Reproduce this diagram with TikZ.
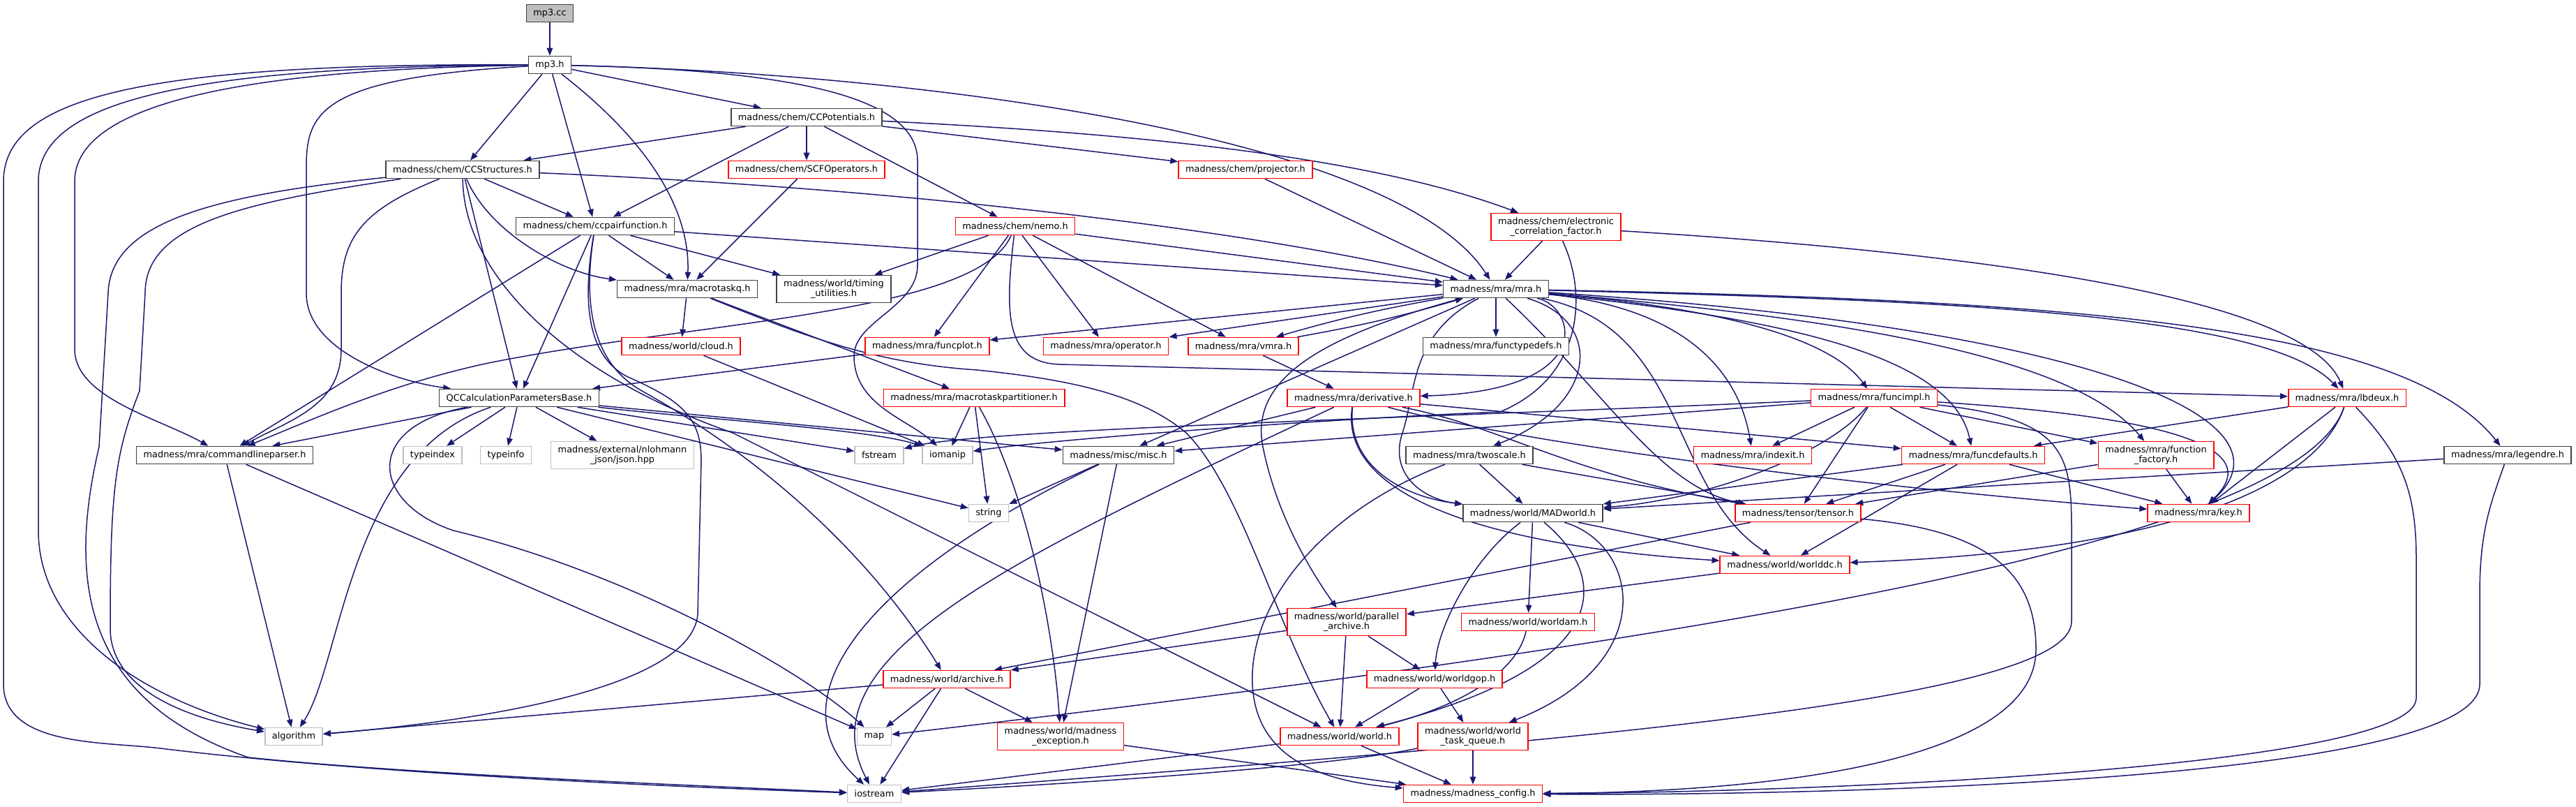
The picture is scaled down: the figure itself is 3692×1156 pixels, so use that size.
\documentclass[tikz,border=0pt]{standalone}
\usepackage{fontspec}
\setmainfont{DejaVu Sans}
\usetikzlibrary{arrows.meta}
\definecolor{Navy}{HTML}{191970}
\definecolor{Frame}{HTML}{404040}
\definecolor{Grey}{HTML}{BFBFBF}
\definecolor{Trunc}{HTML}{FF0000}
\pgfdeclarelayer{background}
\pgfsetlayers{background,main}

\begin{document}
\begin{tikzpicture}[x=1pt, y=-1pt,
  hdr/.style={draw=Frame, fill=white, line width=1.6pt, font=\fontsize{12.9}{14}\selectfont, inner xsep=10pt, inner ysep=6pt, minimum height=25pt, align=center},
  sys/.style={hdr, draw=Grey},
  trunc/.style={hdr, draw=Trunc},
  incl/.style={draw=Navy, line width=1.5pt, -{Triangle[length=11pt,width=8.5pt]}}]
\useasboundingbox (0,0) rectangle (3692,1156);
\node[hdr, fill=Grey] (cc) at (788,19) {mp3.cc};
\node[hdr] (mph) at (788,93) {mp3.h};
\node[hdr] (ccpot) at (1156,168) {madness/chem/CCPotentials.h};
\node[hdr] (ccstr) at (663,243) {madness/chem/CCStructures.h};
\node[trunc] (scfop) at (1156,243) {madness/chem/SCFOperators.h};
\node[trunc] (proj) at (1785,243) {madness/chem/projector.h};
\node[hdr] (ccpair) at (853,324) {madness/chem/ccpairfunction.h};
\node[trunc] (nemo) at (1455,324) {madness/chem/nemo.h};
\node[trunc] (ecf) at (2230,325) {madness/chem/electronic\\\_correlation\_factor.h};
\node[hdr] (mtq) at (985,414) {madness/mra/macrotaskq.h};
\node[hdr] (timing) at (1195,414) {madness/world/timing\\\_utilities.h};
\node[hdr] (mra) at (2144,414) {madness/mra/mra.h};
\node[trunc] (cloud) at (976,496) {madness/world/cloud.h};
\node[trunc] (funcplot) at (1329,496) {madness/mra/funcplot.h};
\node[trunc] (oper) at (1585,496) {madness/mra/operator.h};
\node[trunc] (vmra) at (1782,496) {madness/mra/vmra.h};
\node[hdr] (ftd) at (2144,496) {madness/mra/functypedefs.h};
\node[hdr] (qccalc) at (744,570) {QCCalculationParametersBase.h};
\node[trunc] (mtp) at (1396,570) {madness/mra/macrotaskpartitioner.h};
\node[trunc] (deriv) at (1940,570) {madness/mra/derivative.h};
\node[trunc] (funcimpl) at (2686,570) {madness/mra/funcimpl.h};
\node[trunc] (lbdeux) at (3364,570) {madness/mra/lbdeux.h};
\node[hdr] (clp) at (322,652) {madness/mra/commandlineparser.h};
\node[sys] (tidx) at (620,652) {typeindex};
\node[sys] (tinfo) at (725,652) {typeinfo};
\node[sys] (json) at (892,652) {madness/external/nlohmann\\\_json/json.hpp};
\node[sys] (fstr) at (1260,652) {fstream};
\node[sys] (ioman) at (1358,652) {iomanip};
\node[hdr] (misc) at (1603,652) {madness/misc/misc.h};
\node[hdr] (twoscale) at (2106,652) {madness/mra/twoscale.h};
\node[trunc] (indexit) at (2512,652) {madness/mra/indexit.h};
\node[trunc] (fdef) at (2828,652) {madness/mra/funcdefaults.h};
\node[trunc] (ffact) at (3090,652) {madness/mra/function\\\_factory.h};
\node[hdr] (legendre) at (3594,652) {madness/mra/legendre.h};
\node[sys] (str) at (1417,735) {string};
\node[hdr] (madw) at (2197,735) {madness/world/MADworld.h};
\node[trunc] (tensor) at (2577,735) {madness/tensor/tensor.h};
\node[trunc] (key) at (3151,735) {madness/mra/key.h};
\node[trunc] (worlddc) at (2558,809) {madness/world/worlddc.h};
\node[trunc] (parch) at (1930,891) {madness/world/parallel\\\_archive.h};
\node[trunc] (worldam) at (2190,891) {madness/world/worldam.h};
\node[trunc] (archive) at (1357,973) {madness/world/archive.h};
\node[trunc] (worldgop) at (2056,973) {madness/world/worldgop.h};
\node[sys] (algo) at (421,1055) {algorithm};
\node[sys] (map) at (1253,1055) {map};
\node[trunc] (mexc) at (1520,1055) {madness/world/madness\\\_exception.h};
\node[trunc] (world) at (1920,1055) {madness/world/world.h};
\node[trunc] (wtq) at (2111,1055) {madness/world/world\\\_task\_queue.h};
\node[sys] (iostr) at (1253,1137) {iostream};
\node[trunc] (mcfg) at (2111,1137) {madness/madness\_config.h};
\begin{pgfonlayer}{background}
\fill[white] (0,0) rectangle (3692,1156);
\foreach \x/\y in {cc/mph,mph/ccstr,mph/ccpair,mph/ccpot,ccpot/ccstr,ccpot/ccpair,ccpot/scfop,ccpot/nemo,ccpot/proj,
  ccstr/ccpair,ccstr/qccalc,ccpair/timing,ccpair/mra,ccpair/qccalc,ccpair/clp,ccpair/mtq,scfop/mtq,
  nemo/timing,nemo/funcplot,nemo/oper,nemo/vmra,nemo/mra,proj/mra,ecf/mra,vmra/deriv,funcplot/qccalc,
  mtq/cloud,mtq/mtp,cloud/ioman,mra/ftd,mra/funcplot,mra/oper,mra/misc,
  qccalc/tidx,qccalc/tinfo,qccalc/json,qccalc/clp,qccalc/fstr,qccalc/misc,qccalc/str,
  clp/algo,clp/map,mtp/ioman,mtp/str,misc/str,misc/mexc,deriv/misc,deriv/fdef,
  funcimpl/misc,funcimpl/indexit,funcimpl/tensor,funcimpl/fdef,funcimpl/ffact,lbdeux/fdef,lbdeux/key,
  legendre/madw,twoscale/madw,twoscale/tensor,fdef/madw,fdef/tensor,fdef/worlddc,fdef/key,ffact/key,ffact/tensor,
  tensor/archive,worlddc/parch,madw/worlddc,madw/worldam,parch/archive,parch/world,parch/worldgop,
  worldgop/world,worldgop/wtq,archive/map,archive/iostr,archive/mexc,archive/algo,
  mexc/mcfg,world/iostr,world/mcfg,wtq/mcfg}{\draw[incl] (\x) -- (\y);}
\draw[incl] (mra) to[bend right=3] (vmra);
\draw[incl] (vmra) to[bend right=3] (mra);
\draw[incl] (mph) .. controls (900,180) and (990,280) .. (mtq);
\draw[incl] (mph) .. controls (1300,105) and (2000,190) .. (mra);
\draw[incl] (mph) .. controls (1100,100) and (1315,130) .. (1315,230) -- (1315,380) .. controls (1315,440) and (1224,460) .. (1224,510) .. controls (1224,580) and (1300,600) .. (ioman);
\draw[incl] (mph) .. controls (460,112) and (439,160) .. (439,240) -- (439,420) .. controls (439,500) and (560,545) .. (qccalc);
\draw[incl] (mph) .. controls (300,100) and (107,160) .. (107,260) -- (107,500) .. controls (107,570) and (230,600) .. (clp);
\draw[incl] (mph) .. controls (250,95) and (55,150) .. (55,260) -- (55,760) .. controls (55,900) and (200,1000) .. (algo);
\draw[incl] (mph) .. controls (200,90) and (5,140) .. (5,260) -- (5,980) .. controls (5,1070) and (150,1062) .. (230,1072) .. controls (500,1105) and (900,1125) .. (iostr);
\draw[incl] (ccstr) .. controls (300,280) and (158,320) .. (155,420) -- (142,640) .. controls (100,820) and (110,1000) .. (356,1085) .. controls (600,1110) and (1000,1125) .. (iostr);
\draw[incl] (ccstr) .. controls (350,290) and (208,320) .. (208,420) -- (200,560) .. controls (165,650) and (158,700) .. (158,900) .. controls (158,1000) and (300,1035) .. (algo);
\draw[incl] (ccstr) .. controls (520,300) and (489,340) .. (489,420) -- (489,500) .. controls (489,580) and (420,600) .. (clp);
\draw[incl] (ccstr) .. controls (700,330) and (800,390) .. (mtq);
\draw[incl] (ccstr) .. controls (1300,270) and (1800,330) .. (mra);
\draw[incl] (ccstr) .. controls (665,400) and (820,540) .. (1050,620) -- (world);
\draw[incl] (ccpair) .. controls (835,430) and (840,510) .. (900,540) .. controls (980,575) and (1005,600) .. (1005,660) -- (1000,880) .. controls (990,1000) and (600,1040) .. (algo);
\draw[incl] (ccpair) .. controls (835,440) and (850,520) .. (920,560) .. controls (1100,660) and (1250,800) .. (archive);
\draw[incl] (ccpot) .. controls (1600,190) and (1950,220) .. (ecf);
\draw[incl] (nemo) .. controls (1400,450) and (1000,460) .. (700,520) .. controls (560,550) and (450,600) .. (clp);
\draw[incl] (nemo) .. controls (1440,450) and (1440,520) .. (1520,522) -- (lbdeux);
\draw[incl] (ecf) .. controls (2800,360) and (3300,420) .. (lbdeux);
\draw[incl] (ecf) .. controls (2275,420) and (2270,540) .. (2150,590) .. controls (1900,600) and (1500,630) .. (ioman);
\draw[incl] (qccalc) .. controls (1000,600) and (1250,615) .. (ioman);
\draw[incl] (qccalc) .. controls (500,650) and (490,950) .. (algo);
\draw[incl] (qccalc) .. controls (520,610) and (530,720) .. (650,760) .. controls (900,820) and (1150,960) .. (map);
\draw[incl] (mtq) .. controls (1150,480) and (1250,520) .. (1400,530) .. controls (1550,545) and (1640,570) .. (1700,620) .. controls (1780,700) and (1830,900) .. (world);
\draw[incl] (mtp) .. controls (1470,700) and (1510,900) .. (mexc);
\draw[incl] (mra) .. controls (2260,440) and (2290,560) .. (deriv);
\draw[incl] (mra) .. controls (2300,460) and (2290,580) .. (twoscale);
\draw[incl] (mra) .. controls (2020,480) and (2030,560) .. (2010,620) .. controls (1990,680) and (2040,715) .. (madw);
\draw[incl] (mra) .. controls (1900,480) and (1790,540) .. (1810,640) .. controls (1830,740) and (1880,820) .. (parch);
\draw[incl] (mra) .. controls (2450,440) and (2620,480) .. (funcimpl);
\draw[incl] (mra) .. controls (2400,440) and (2490,520) .. (indexit);
\draw[incl] (mra) .. controls (2600,460) and (2800,520) .. (fdef);
\draw[incl] (mra) .. controls (2700,460) and (2980,520) .. (ffact);
\draw[incl] (mra) .. controls (2800,430) and (3250,450) .. (lbdeux);
\draw[incl] (mra) .. controls (3000,430) and (3450,470) .. (legendre);
\draw[incl] (mra) .. controls (3000,470) and (3300,600) .. (key);
\draw[incl] (mra) .. controls (2420,470) and (2390,700) .. (worlddc);
\draw[incl] (mra) .. controls (2300,560) and (2380,700) .. (tensor);
\draw[incl] (deriv) .. controls (1450,800) and (1150,940) .. (iostr);
\draw[incl] (deriv) .. controls (2200,640) and (2700,700) .. (key);
\draw[incl] (deriv) .. controls (2150,610) and (2250,680) .. (tensor);
\draw[incl] (deriv) .. controls (1920,700) and (2100,780) .. (worlddc);
\draw[incl] (deriv) .. controls (1930,660) and (2000,710) .. (madw);
\draw[incl] (misc) .. controls (1250,820) and (1100,1000) .. (iostr);
\draw[incl] (funcimpl) .. controls (2000,600) and (1400,615) .. (fstr);
\draw[incl] (funcimpl) .. controls (3150,600) and (3240,650) .. (key);
\draw[incl] (funcimpl) .. controls (2620,650) and (2450,715) .. (madw);
\draw[incl] (funcimpl) .. controls (2960,600) and (2969,650) .. (2969,760) -- (2969,890) .. controls (2969,1000) and (2300,1060) .. (iostr);
\draw[incl] (tensor) .. controls (2850,760) and (2918,820) .. (2918,930) .. controls (2918,1100) and (2500,1135) .. (mcfg);
\draw[incl] (lbdeux) .. controls (3440,650) and (3463,700) .. (3463,800) -- (3463,1000) .. controls (3463,1100) and (2600,1135) .. (mcfg);
\draw[incl] (legendre) .. controls (3570,720) and (3554,760) .. (3554,850) -- (3554,980) .. controls (3554,1120) and (2600,1140) .. (mcfg);
\draw[incl] (lbdeux) .. controls (3320,700) and (3100,790) .. (worlddc);
\draw[incl] (lbdeux) .. controls (3300,760) and (2600,900) .. (map);
\draw[incl] (twoscale) .. controls (1900,730) and (1790,860) .. (1795,980) .. controls (1800,1090) and (1900,1120) .. (mcfg);
\draw[incl] (madw) .. controls (2300,820) and (2330,950) .. (world);
\draw[incl] (madw) .. controls (2350,780) and (2380,950) .. (wtq);
\draw[incl] (madw) .. controls (2110,800) and (2060,900) .. (worldgop);
\draw[incl] (worldam) .. controls (2175,960) and (2100,1010) .. (world);
\draw[incl] (wtq) .. controls (1900,1100) and (1500,1125) .. (iostr);
\end{pgfonlayer}
\end{tikzpicture}
\end{document}
